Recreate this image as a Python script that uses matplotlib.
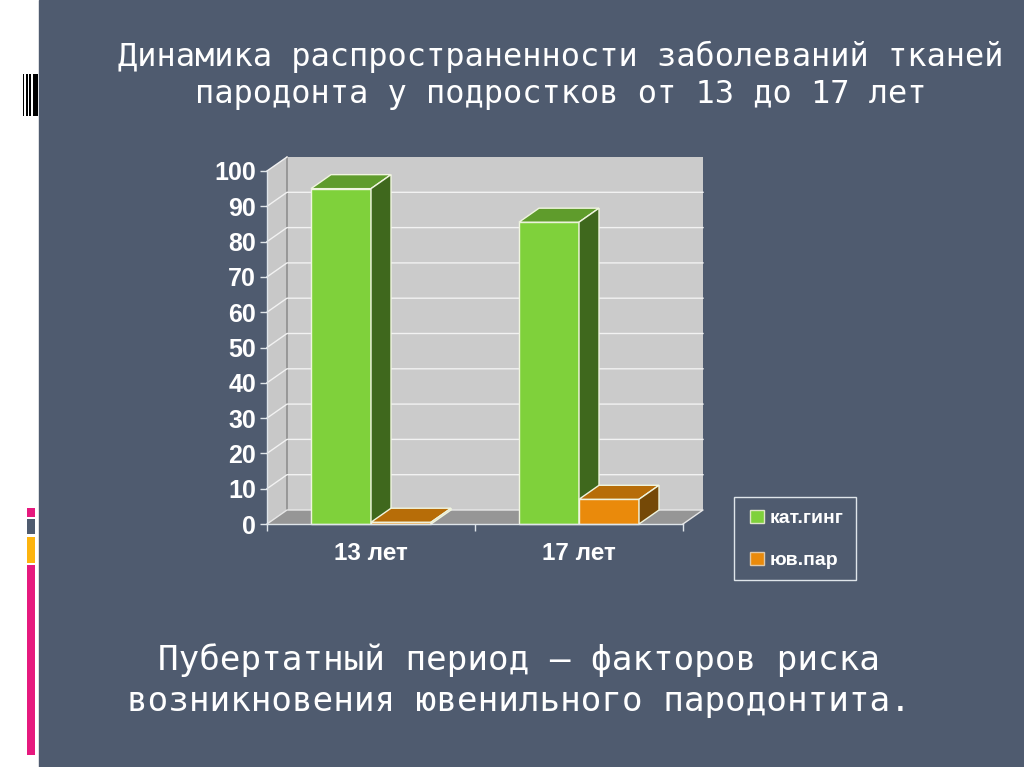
import matplotlib
matplotlib.use('Agg')
import matplotlib.pyplot as plt
from matplotlib.patches import Rectangle, Patch

# Data
categories = ['13 лет', '17 лет']
series_names = ['кат.гинг', 'юв.пар']
kat_ging = [95, 85.5]
juv_par = [0.5, 7]
y_ticks = list(range(0, 101, 10))
title_lines = ['Динамика распространенности заболеваний тканей',
               'пародонта у подростков от 13 до 17 лет']
bottom_lines = ['Пубертатный период – факторов риска',
                'возникновения ювенильного пародонтита.']

# Colours
bg = '#4f5b6f'
pale = '#dfe5ea'
green = ('#7fd13b', '#5f9c2c', '#3f681d')
orange = ('#ea8a0b', '#b76d08', '#754907')

W, H = 1024, 767
fig = plt.figure(figsize=(W / 100, H / 100), dpi=100, facecolor='white')

# Slide layer, in pixels
page = fig.add_axes([0, 0, 1, 1])
page.set_xlim(0, W)
page.set_ylim(H, 0)
page.axis('off')
page.add_patch(Rectangle((39, 0), W - 39, H, color=bg))

# Barcode mark and coloured strips on the left margin
for x0, w in [(22.7, 1.3), (26, 2), (28.7, 2.6), (32.7, 5.3)]:
    page.add_patch(Rectangle((x0, 74), w, 42, color='black', lw=0))
for y0, h, c in [(508, 9, '#e6197e'), (519, 15, '#4f5b6f'),
                 (537, 26, '#fdb40f'), (565, 190, '#e6197e')]:
    page.add_patch(Rectangle((27, y0), 8, h, color=c, lw=0))

mono = 'DejaVu Sans Mono'
for line, y in zip(title_lines, [57, 95]):
    page.text(561, y, line, family=mono, fontsize=23, color='white',
              ha='center', va='center')
for line, y in zip(bottom_lines, [660, 701]):
    page.text(519, y, line, family=mono, fontsize=24.7, color='white',
              ha='center', va='center')

# Legend frame
page.add_patch(Rectangle((733.5, 496.5), 122, 83, facecolor='none', edgecolor=pale, lw=1))

# Chart axes = front plane of the 3D box
left, right, top, bottom = 267, 683, 171, 524
ax = fig.add_axes([left / W, 1 - bottom / H, (right - left) / W, (bottom - top) / H])
ax.set_xlim(0, 2)
ax.set_ylim(0, 100)
ax.patch.set_visible(False)

dx = 20 / 208   # depth offset, category units
dy = 14 / 3.53  # depth offset, value units
bar_w = 60 / 208
bar_off = 44 / 208

# Box walls
ax.fill([0, dx, dx, 0], [0, dy, 100 + dy, 100], color='#c8c8c8', lw=0, clip_on=False, zorder=1)
ax.fill([dx, 2 + dx, 2 + dx, dx], [dy, dy, 100 + dy, 100 + dy], color='#cbcbcb', lw=0, clip_on=False, zorder=1)
ax.fill([0, dx, 2 + dx, 2], [0, dy, dy, 0], color='#969696', lw=0, clip_on=False, zorder=1)
ax.plot([dx, dx], [dy, 100 + dy], color='#8f8f8f', lw=1.2, clip_on=False, zorder=1.5)

# Gridlines, on side wall and back wall
for v in y_ticks:
    if v == 0:
        ax.plot([0, dx, 2 + dx, 2], [0, dy, dy, 0], color='#e8e8e8', lw=1, clip_on=False, zorder=1.6)
    elif v == 100:
        ax.plot([0, dx], [v, v + dy], color='#f2f2f2', lw=1, clip_on=False, zorder=1.6)
    else:
        ax.plot([0, dx, 2 + dx], [v, v + dy, v + dy], color='#f2f2f2', lw=1, clip_on=False, zorder=1.6)


def box(x, value, colors):
    front, roof, side = colors
    edge = '#f0f5e0'
    ax.bar(x, value, bar_w, align='edge', color=front, edgecolor=edge, lw=1, zorder=3, clip_on=False)
    ax.fill([x, x + dx, x + bar_w + dx, x + bar_w], [value, value + dy, value + dy, value],
            facecolor=roof, edgecolor=edge, lw=1, zorder=3, clip_on=False)
    ax.fill([x + bar_w, x + bar_w + dx, x + bar_w + dx, x + bar_w],
            [0, dy, value + dy, value],
            facecolor=side, edgecolor=edge, lw=1, zorder=3, clip_on=False)


for i in range(len(categories)):
    box(i + bar_off, kat_ging[i], green)
    box(i + bar_off + bar_w, juv_par[i], orange)

# Axes and ticks
for name in ['top', 'right']:
    ax.spines[name].set_visible(False)
for name in ['left', 'bottom']:
    ax.spines[name].set_color(pale)
    ax.spines[name].set_linewidth(1)
    ax.spines[name].set_zorder(4)

sans = 'Liberation Sans'
ax.set_yticks(y_ticks)
ax.set_yticklabels([str(v) for v in y_ticks], family=sans, fontweight='bold', fontsize=18, color='white')
ax.tick_params(axis='y', length=5, width=1, color=pale, pad=3)
ax.set_xticks([0, 1, 2])
ax.set_xticklabels([])
ax.set_xticks([0.5, 1.5], minor=True)
ax.set_xticklabels(categories, minor=True, family=sans, fontweight='bold', fontsize=17.5, color='white')
ax.tick_params(axis='x', which='major', length=5, width=1, color=pale)
ax.tick_params(axis='x', which='minor', length=0, pad=13)

# Legend
handles = [Patch(facecolor=green[0], edgecolor='#dfe5c8', label=series_names[0]),
           Patch(facecolor=orange[0], edgecolor='#dfc8a8', label=series_names[1])]
leg = fig.legend(handles=handles, loc='center', bbox_to_anchor=(797 / W, 1 - 539.5 / H),
                 prop={'family': sans, 'weight': 'bold', 'size': 14},
                 labelcolor='white', frameon=False,
                 handlelength=0.68, handleheight=0.68,
                 handletextpad=0.32, labelspacing=1.25, borderpad=0, borderaxespad=0)

fig.savefig('out.png', dpi=100, facecolor=fig.get_facecolor())
